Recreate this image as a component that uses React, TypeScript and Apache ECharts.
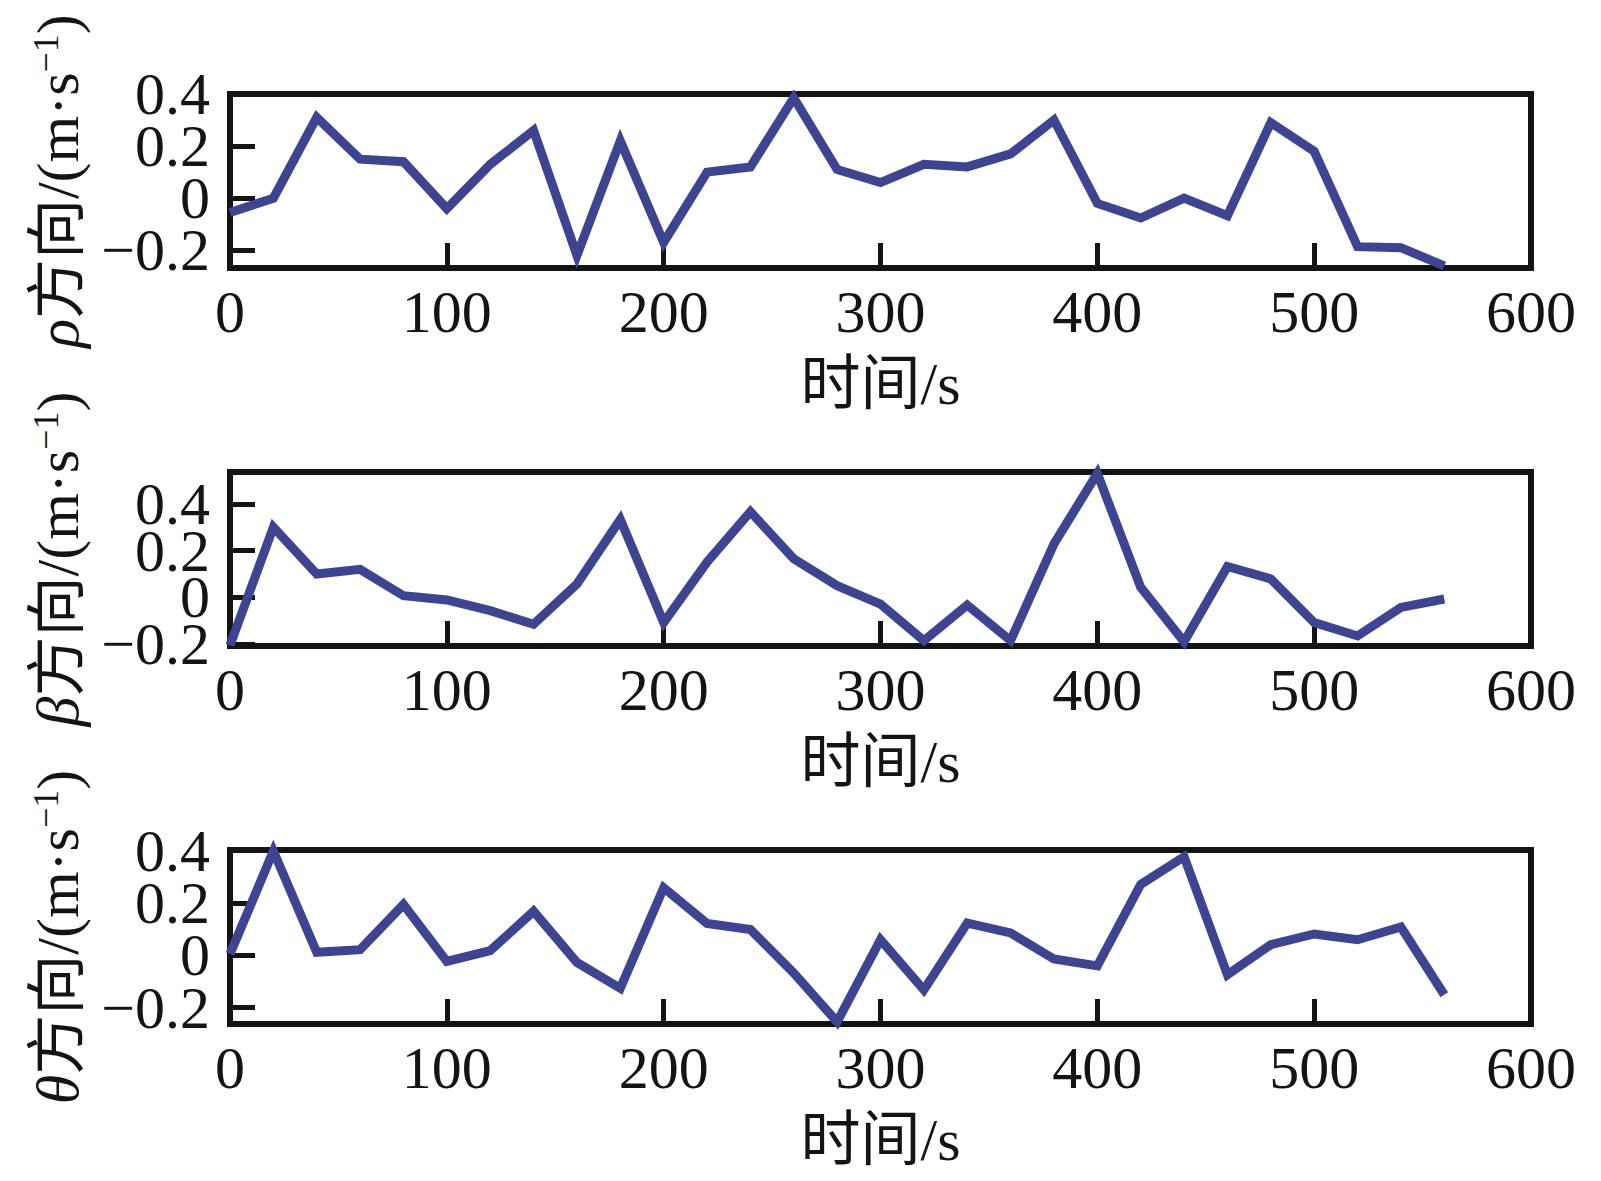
import React, { useEffect, useRef } from "react";
import * as echarts from "echarts";

const time = [0, 20, 40, 60, 80, 100, 120, 140, 160, 180, 200, 220, 240, 260, 280, 300, 320, 340, 360, 380, 400, 420, 440, 460, 480, 500, 520, 540, 560];

const rhoValues = [-0.055, 0.0, 0.31, 0.15, 0.14, -0.04, 0.13, 0.26, -0.22, 0.22, -0.17, 0.1, 0.12, 0.385, 0.11, 0.06, 0.13, 0.12, 0.17, 0.3, -0.02, -0.076, 0.0, -0.067, 0.29, 0.18, -0.186, -0.19, -0.26];
const betaValues = [-0.205, 0.3, 0.1, 0.12, 0.007, -0.011, -0.057, -0.115, 0.057, 0.333, -0.108, 0.151, 0.366, 0.165, 0.05, -0.029, -0.185, -0.033, -0.185, 0.229, 0.53, 0.043, -0.19, 0.132, 0.079, -0.108, -0.165, -0.043, -0.007];
const thetaValues = [0.005, 0.4, 0.012, 0.022, 0.195, -0.023, 0.018, 0.169, -0.027, -0.126, 0.259, 0.122, 0.099, -0.068, -0.255, 0.06, -0.132, 0.124, 0.086, -0.014, -0.04, 0.272, 0.378, -0.074, 0.041, 0.082, 0.06, 0.109, -0.151];

const yRanges = [
  [-0.268, 0.4],
  [-0.208, 0.536],
  [-0.263, 0.404],
];
const yTickValues = [-0.2, 0, 0.2, 0.4];
// labels are split over two stacked axes so that neighbouring labels never collide inside one axis
const yLabelsA = [-0.2, 0.2];
const yLabelsB = [0, 0.4];
const xTickValues = [0, 100, 200, 300, 400, 500, 600];
const xInnerTicks = [100, 200, 300, 400, 500];
const symbols = ["ρ", "β", "θ"];
const xName = "时间/s";

const seriesList = [rhoValues, betaValues, thetaValues];

const LINE_COLOR = "#3d4592";
const INK = "#141414";
const SERIF = "'Liberation Serif', 'Times New Roman', 'Noto Sans CJK SC', serif";
const FS = 60;

export default function App() {
  const ref = useRef<HTMLDivElement>(null);

  useEffect(() => {
    if (!ref.current) return;
    const chart = echarts.init(ref.current, undefined, { renderer: "svg" });

    const gridTops = [94, 472, 850];
    const gridHeight = 174;
    const gridLeft = 230;
    const gridWidth = 1301;

    const grids = gridTops.map((top) => ({
      left: gridLeft,
      top,
      width: gridWidth,
      height: gridHeight,
      show: true,
      borderColor: INK,
      borderWidth: 6,
      backgroundColor: "transparent",
      containLabel: false,
    }));

    const fmt = (v: number) => {
      if (Math.abs(v) < 1e-9) return "0";
      const s = v.toFixed(1);
      return s.replace("-", "−");
    };

    const xAxes = gridTops.map((_, i) => ({
      type: "value",
      gridIndex: i,
      min: 0,
      max: 600,
      interval: 100,
      name: xName,
      nameLocation: "middle",
      nameGap: 86,
      nameTextStyle: {
        color: INK,
        fontSize: FS,
        fontFamily: SERIF,
      },
      axisLine: { show: false, onZero: false },
      splitLine: { show: false },
      axisTick: {
        show: true,
        inside: true,
        length: 25,
        customValues: xInnerTicks,
        lineStyle: { color: INK, width: 5 },
      },
      axisLabel: {
        show: true,
        customValues: xTickValues,
        showMinLabel: true,
        showMaxLabel: true,
        hideOverlap: false,
        margin: 14,
        color: INK,
        fontSize: FS,
        fontFamily: SERIF,
        formatter: (v: number) => String(v),
      },
    }));

    const labelStyle = (values: number[]) => ({
      show: true,
      customValues: values,
      showMinLabel: true,
      showMaxLabel: true,
      hideOverlap: false,
      margin: 20,
      color: INK,
      fontSize: FS,
      lineHeight: 40,
      fontFamily: SERIF,
      formatter: fmt,
    });

    const yAxes: any[] = [];
    gridTops.forEach((_, i) => {
      yAxes.push({
        type: "value",
        gridIndex: i,
        position: "left",
        min: yRanges[i][0],
        max: yRanges[i][1],
        name: `{i|${symbols[i]}}方向/(m·s{sup|−1})`,
        nameLocation: "middle",
        nameRotate: 90,
        nameGap: 142,
        nameTextStyle: {
          color: INK,
          fontSize: FS,
          fontFamily: SERIF,
          rich: {
            i: {
              fontStyle: "italic",
              fontSize: FS,
              fontFamily: SERIF,
              color: INK,
            },
            sup: {
              fontSize: 36,
              fontFamily: SERIF,
              color: INK,
              verticalAlign: "top",
            },
          },
        },
        axisLine: { show: false, onZero: false },
        splitLine: { show: false },
        axisTick: {
          show: true,
          inside: true,
          length: 25,
          customValues: yTickValues.filter((v) => v > yRanges[i][0] && v < yRanges[i][1] - 0.005),
          lineStyle: { color: INK, width: 5 },
        },
        axisLabel: labelStyle(yLabelsA),
      });
      yAxes.push({
        type: "value",
        gridIndex: i,
        position: "left",
        offset: 0,
        min: yRanges[i][0],
        max: yRanges[i][1],
        axisLine: { show: false, onZero: false },
        splitLine: { show: false },
        axisTick: { show: false },
        axisLabel: labelStyle(yLabelsB),
      });
    });

    const series = seriesList.map((vals, i) => ({
      type: "line",
      xAxisIndex: i,
      yAxisIndex: i * 2,
      data: time.map((t, k) => [t, vals[k]]),
      showSymbol: false,
      symbol: "none",
      clip: false,
      lineStyle: {
        color: LINE_COLOR,
        width: 9,
        join: "miter",
        miterLimit: 4,
      },
      z: 3,
    }));

    chart.setOption({
      animation: false,
      backgroundColor: "#ffffff",
      grid: grids,
      xAxis: xAxes,
      yAxis: yAxes,
      series,
    } as any);

    return () => {
      chart.dispose();
    };
  }, []);

  return (
    <div
      ref={ref}
      style={{ position: "fixed", left: 0, top: 0, width: 1601, height: 1181, background: "#fff" }}
    />
  );
}
